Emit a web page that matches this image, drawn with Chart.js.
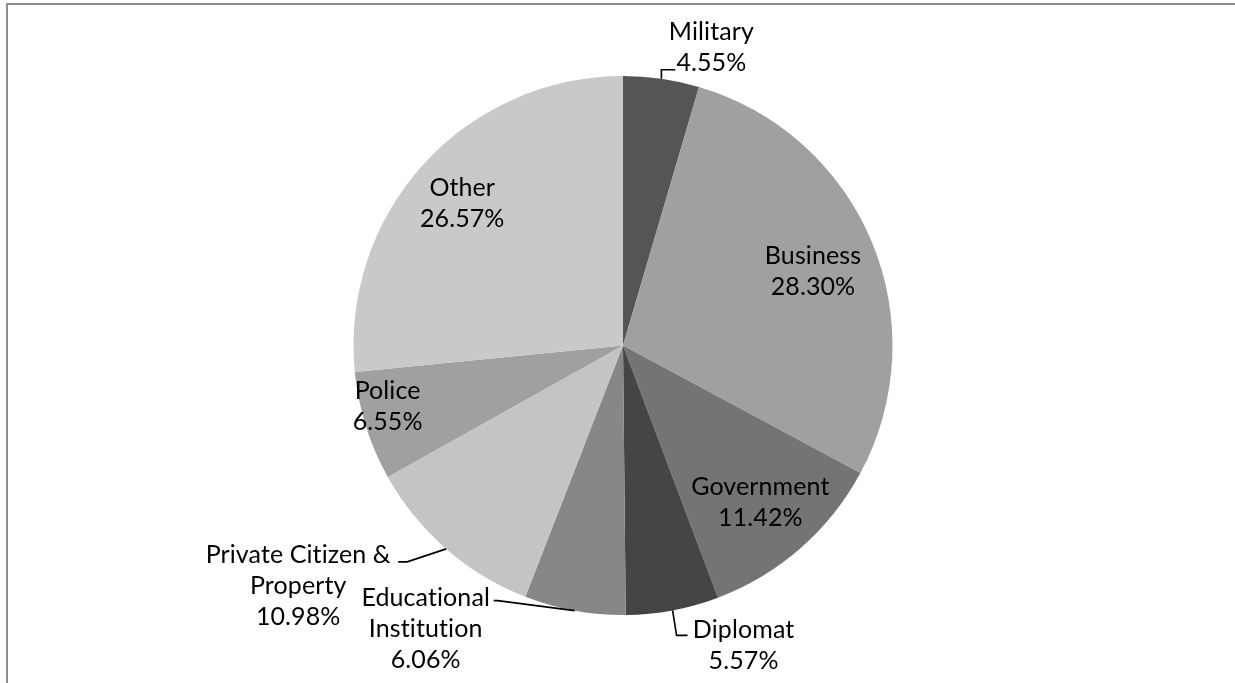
<!DOCTYPE html>
<html>
<head>
<meta charset="utf-8">
<script src="https://cdn.jsdelivr.net/npm/chart.js@4"></script>
<style>
  html, body { margin: 0; padding: 0; background: #fff; }
  .wrap { position: relative; width: 1235px; height: 683px; overflow: hidden; }
  .frame { position: absolute; left: 6px; top: 3px; right: -4px; bottom: -4px;
           border-top: 2px solid #8f8f8f; border-left: 2px solid #8f8f8f; }
  #pie { position: absolute; left: 0; top: 0; }
</style>
</head>
<body>
<div class="wrap">
  <div class="frame"></div>
  <canvas id="pie" width="1235" height="683"></canvas>
</div>
<script>
// categories and shares (percent)
var categories = ["Military", "Business", "Government", "Diplomat",
                  "Educational Institution", "Private Citizen & Property", "Police", "Other"];
var shares = [4.55, 28.30, 11.42, 5.57, 6.06, 10.98, 6.55, 26.57];
var sliceColors = ["#555555", "#a0a0a0", "#747474", "#454545",
                   "#878787", "#c4c4c4", "#a0a0a0", "#c9c9c9"];

// how each label is written (line breaks)
var labelLines = [["Military"], ["Business"], ["Government"], ["Diplomat"],
                  ["Educational", "Institution"], ["Private Citizen &", "Property"], ["Police"], ["Other"]];

// label placement: inside labels sit along the slice's mid angle (fraction of radius),
// outside labels are offset from the rim point and get a leader line
var labelPlace = [
  { out: true, dx: 50, dy: -31, elbow: [0, -9], end: [14, -9] },
  { k: 0.756, dx: 2, dy: 4 },
  { k: 0.774, dx: 0, dy: 0 },
  { out: true, dx: 71, dy: 35, elbow: [4, 25], end: [15, 25] },
  { out: true, dx: -149, dy: 18, elbow: [-77, -10], end: [-81, -10] },
  { out: true, dx: -148, dy: 37, elbow: [-39, 13], end: [-48, 13] },
  { k: 0.90, dx: -4, dy: -12 },
  { k: 0.795, dx: -2, dy: 2 }
];

var FONT = '25px Lato';
var LINE_H = 31;

var pieLabels = {
  id: 'pieLabels',
  afterDatasetsDraw: function (chart) {
    var ctx = chart.ctx;
    var meta = chart.getDatasetMeta(0);
    ctx.save();
    ctx.font = FONT;
    ctx.letterSpacing = '0.1px'; // keeps "ti" from turning into a ligature
    ctx.fillStyle = '#000';
    ctx.strokeStyle = '#000';
    ctx.lineWidth = 1.6;
    ctx.textAlign = 'center';
    ctx.textBaseline = 'middle';
    meta.data.forEach(function (arc, i) {
      var p = arc.getProps(['x', 'y', 'startAngle', 'endAngle', 'outerRadius'], true);
      var mid = (p.startAngle + p.endAngle) / 2;
      var place = labelPlace[i];
      var cx, cy;
      if (place.out) {
        var rx = p.x + Math.cos(mid) * p.outerRadius;
        var ry = p.y + Math.sin(mid) * p.outerRadius;
        ctx.beginPath();
        ctx.moveTo(rx, ry);
        ctx.lineTo(rx + place.elbow[0], ry + place.elbow[1]);
        ctx.lineTo(rx + place.end[0], ry + place.end[1]);
        ctx.stroke();
        cx = rx + place.dx;
        cy = ry + place.dy;
      } else {
        cx = p.x + Math.cos(mid) * p.outerRadius * place.k + place.dx;
        cy = p.y + Math.sin(mid) * p.outerRadius * place.k + place.dy;
      }
      var lines = labelLines[i].concat([shares[i].toFixed(2) + '%']);
      var top = cy - (lines.length - 1) * LINE_H / 2;
      lines.forEach(function (t, j) {
        ctx.fillText(t, cx, top + j * LINE_H);
      });
    });
    ctx.restore();
  }
};

var ctx = document.getElementById('pie').getContext('2d');
var pie = new Chart(ctx, {
  type: 'pie',
  data: {
    labels: categories,
    datasets: [{
      data: shares,
      backgroundColor: sliceColors,
      borderWidth: 0
    }]
  },
  options: {
    responsive: false,
    animation: false,
    layout: { padding: { left: 11, right: 0, top: 76, bottom: 68 } },
    plugins: {
      legend: { display: false },
      tooltip: { enabled: false }
    }
  },
  plugins: [pieLabels]
});
</script>
</body>
</html>
